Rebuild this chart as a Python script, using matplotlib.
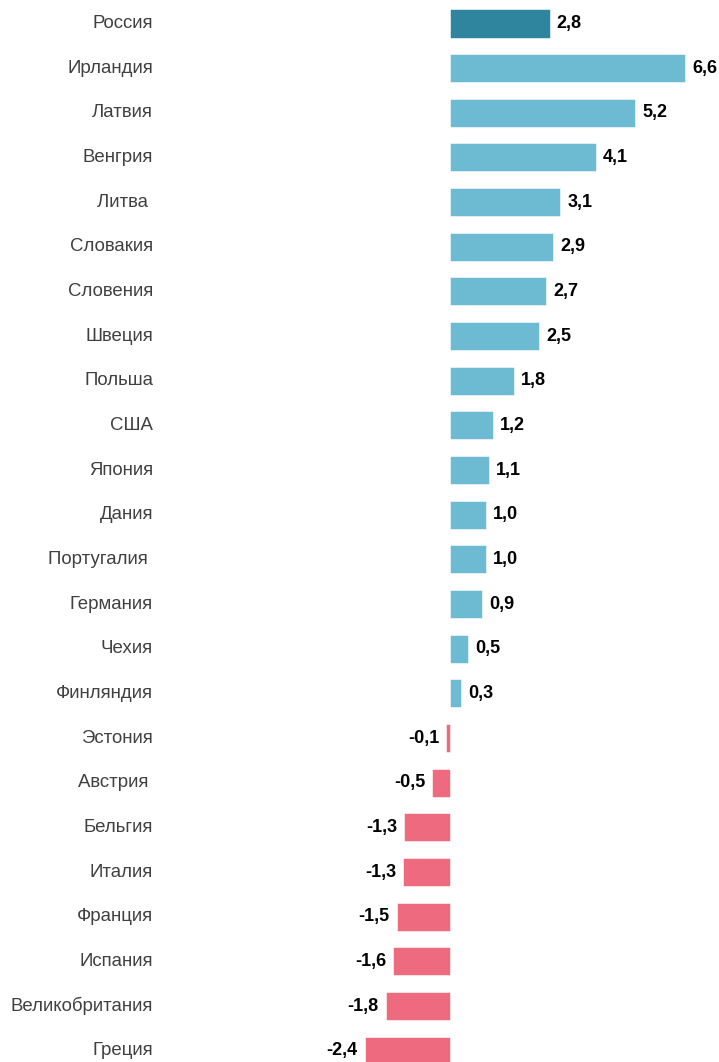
import matplotlib
matplotlib.use("Agg")
import matplotlib.pyplot as plt

# =========================================================
# Data
# =========================================================

countries = [
    "Россия", "Ирландия", "Латвия", "Венгрия", "Литва ", "Словакия",
    "Словения", "Швеция", "Польша", "США", "Япония", "Дания",
    "Португалия ", "Германия", "Чехия", "Финляндия", "Эстония",
    "Австрия ", "Бельгия", "Италия", "Франция", "Испания",
    "Великобритания", "Греция",
]

values = [
    2.8, 6.6, 5.2, 4.1, 3.1, 2.9,
    2.7, 2.5, 1.8, 1.2, 1.1, 1.0,
    1.0, 0.9, 0.5, 0.3, -0.1,
    -0.5, -1.29, -1.32, -1.5, -1.6,
    -1.8, -2.4,
]

HIGHLIGHT = "Россия"

# =========================================================
# Style
# =========================================================

plt.rcParams["font.family"] = ["Liberation Sans", "DejaVu Sans"]

COLOR_HL = "#2f849e"
COLOR_POS = "#6dbbd3"
COLOR_NEG = "#ee6a7e"

colors = []
for name, v in zip(countries, values):
    if name == HIGHLIGHT:
        colors.append(COLOR_HL)
    elif v >= 0:
        colors.append(COLOR_POS)
    else:
        colors.append(COLOR_NEG)

# =========================================================
# Plot
# =========================================================

fig = plt.figure(figsize=(7.19, 10.62), dpi=100)
ax = fig.add_axes([0, 0, 1, 1])

px_per_unit = 35.6
zero_px = 450
ax.set_xlim(-zero_px / px_per_unit, (719 - zero_px) / px_per_unit)

row_px = 44.66
first_px = 23.5
ax.set_ylim((1062 - first_px) / row_px, -first_px / row_px)

ypos = list(range(len(countries)))

ax.barh(ypos, values, height=0.627, color=colors,
        edgecolor="white", linewidth=0.4)

label_x = (153 - zero_px) / px_per_unit

for y, name, v in zip(ypos, countries, values):
    ax.text(label_x, y, name, ha="right", va="center",
            fontsize=13.4, color="#404040")

    txt = f"{v:.1f}".replace(".", ",")
    if v >= 0:
        ax.text(v + 0.2, y, txt, ha="left", va="center",
                fontsize=13, fontweight="bold", color="black")
    else:
        ax.text(v - 0.2, y, txt, ha="right", va="center",
                fontsize=13, fontweight="bold", color="black")

ax.axis("off")

fig.savefig("out.png", dpi=100)
